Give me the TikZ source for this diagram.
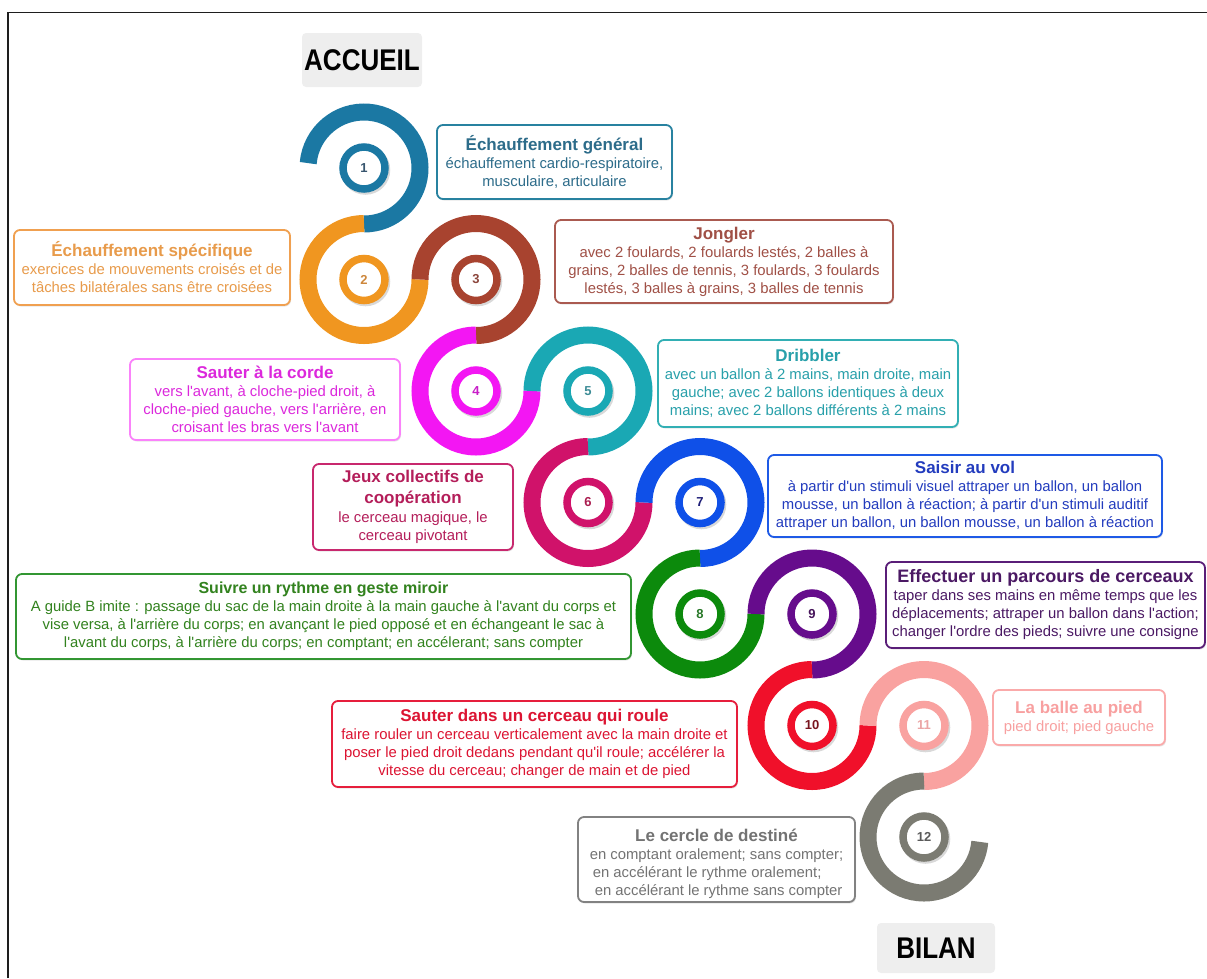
\documentclass[tikz,border=0pt]{standalone}
\usepackage{fontspec}
\setmainfont{Liberation Sans}[Ligatures=TeXOff]
\usetikzlibrary{shadows}
% band / ring colours
\definecolor{k1}{RGB}{27,120,163}
\definecolor{k2}{RGB}{240,150,32}
\definecolor{k3}{RGB}{168,67,47}
\definecolor{k4}{RGB}{243,22,243}
\definecolor{k5}{RGB}{26,168,180}
\definecolor{k6}{RGB}{208,18,106}
\definecolor{k7}{RGB}{15,80,232}
\definecolor{k8}{RGB}{12,138,12}
\definecolor{k9}{RGB}{102,12,140}
\definecolor{k10}{RGB}{240,16,42}
\definecolor{k11}{RGB}{249,162,160}
\definecolor{k12}{RGB}{123,123,114}
% number colours
\definecolor{n1c}{RGB}{55,85,110}
\definecolor{n2c}{RGB}{205,135,60}
\definecolor{n3c}{RGB}{140,70,60}
\definecolor{n4c}{RGB}{200,30,200}
\definecolor{n5c}{RGB}{60,140,150}
\definecolor{n6c}{RGB}{170,30,80}
\definecolor{n7c}{RGB}{30,30,120}
\definecolor{n8c}{RGB}{40,120,40}
\definecolor{n9c}{RGB}{70,20,90}
\definecolor{n10c}{RGB}{120,20,30}
\definecolor{n11c}{RGB}{235,165,165}
\definecolor{n12c}{RGB}{90,90,90}
% box border colours
\definecolor{b1}{RGB}{40,130,160}
\definecolor{b2}{RGB}{240,160,80}
\definecolor{b3}{RGB}{170,90,80}
\definecolor{b4}{RGB}{250,130,250}
\definecolor{b5}{RGB}{50,175,180}
\definecolor{b6}{RGB}{200,40,110}
\definecolor{b7}{RGB}{30,90,230}
\definecolor{b8}{RGB}{50,150,50}
\definecolor{b9}{RGB}{90,30,120}
\definecolor{b10}{RGB}{230,30,60}
\definecolor{b11}{RGB}{250,170,170}
\definecolor{b12}{RGB}{130,130,130}
% box text colours
\definecolor{t1}{RGB}{45,108,138}
\definecolor{t2}{RGB}{232,155,75}
\definecolor{t3}{RGB}{160,80,70}
\definecolor{t4}{RGB}{220,40,220}
\definecolor{t5}{RGB}{40,160,170}
\definecolor{t6}{RGB}{180,30,90}
\definecolor{t7}{RGB}{35,60,190}
\definecolor{t8}{RGB}{50,130,30}
\definecolor{t9}{RGB}{75,25,100}
\definecolor{t10}{RGB}{220,20,50}
\definecolor{t11}{RGB}{248,160,160}
\definecolor{t12}{RGB}{115,115,115}
\definecolor{frame}{RGB}{30,30,30}
\definecolor{tagbg}{RGB}{238,238,238}
\newcommand{\ttl}[2][17]{{\fontsize{#1}{18}\selectfont\bfseries #2}}
\begin{document}
\begin{tikzpicture}[x=1pt,y=1pt,
  band/.style={line width=17pt},
  ring/.style={circle, minimum size=42pt, inner sep=0pt, line width=7.5pt, fill=white,
    font=\fontsize{13}{13}\selectfont\bfseries,
    drop shadow={shadow xshift=1.5pt, shadow yshift=-2pt, opacity=0.3, fill=black!50, draw=black!50, line width=7.5pt}},
  tbox/.style={rounded corners=6pt, line width=1.8pt, fill=white, align=center, inner sep=0pt,
    font=\fontsize{14.85}{18}\selectfont,
    drop shadow={shadow xshift=1pt, shadow yshift=-1.5pt, opacity=0.2}},
  tag/.style={fill=tagbg, rounded corners=4pt, font=\fontsize{26}{26}\selectfont\bfseries,
    minimum width=120pt, minimum height=54pt, inner sep=0pt}
]
\useasboundingbox (0,0) rectangle (1207,-978);
\draw[frame, line width=1.6pt] (8,-978) -- (8,-12.5) -- (1207,-12.5);

% tags
\node[tag] (accueil) at (362,-60) {\scalebox{1}[1.15]{ACCUEIL}};
\node[tag, minimum width=118pt, minimum height=50pt] (bilan) at (936,-948) {\scalebox{1}[1.15]{BILAN}};

% rings
\node[ring, draw=k1, text=n1c] (r1) at (364,-168) {1};
\node[ring, draw=k2, text=n2c] (r2) at (364,-279.5) {2};
\node[ring, draw=k3, text=n3c] (r3) at (476,-279.5) {3};
\node[ring, draw=k4, text=n4c] (r4) at (476,-391) {4};
\node[ring, draw=k5, text=n5c] (r5) at (588,-391) {5};
\node[ring, draw=k6, text=n6c] (r6) at (588,-502.5) {6};
\node[ring, draw=k7, text=n7c] (r7) at (700,-502.5) {7};
\node[ring, draw=k8, text=n8c] (r8) at (700,-614) {8};
\node[ring, draw=k9, text=n9c] (r9) at (812,-614) {9};
\node[ring, draw=k10, text=n10c] (r10) at (812,-725.5) {10};
\node[ring, draw=k11, text=n11c] (r11) at (924,-725.5) {11};
\node[ring, draw=k12, text=n12c] (r12) at (924,-837) {12};

% spiral bands
\draw[band, k1] (r1.center) ++(175:56) arc[start angle=175, end angle=-90, radius=56];
\draw[band, k2] (r2.center) ++(90:56) arc[start angle=90, end angle=360, radius=56];
\draw[band, k3] (r3.center) ++(180:56) arc[start angle=180, end angle=-90, radius=56];
\draw[band, k4] (r4.center) ++(90:56) arc[start angle=90, end angle=360, radius=56];
\draw[band, k5] (r5.center) ++(180:56) arc[start angle=180, end angle=-90, radius=56];
\draw[band, k6] (r6.center) ++(90:56) arc[start angle=90, end angle=360, radius=56];
\draw[band, k7] (r7.center) ++(180:56) arc[start angle=180, end angle=-90, radius=56];
\draw[band, k8] (r8.center) ++(90:56) arc[start angle=90, end angle=360, radius=56];
\draw[band, k9] (r9.center) ++(180:56) arc[start angle=180, end angle=-90, radius=56];
\draw[band, k10] (r10.center) ++(90:56) arc[start angle=90, end angle=360, radius=56];
\draw[band, k11] (r11.center) ++(180:56) arc[start angle=180, end angle=-90, radius=56];
\draw[band, k12] (r12.center) ++(90:56) arc[start angle=90, end angle=355, radius=56];

% text boxes
\node[tbox, draw=b1, text=t1, minimum width=235pt, minimum height=74pt] (s1) at (554.5,-162)
  {\ttl{Échauffement général}\\échauffement cardio-respiratoire,\\musculaire, articulaire};
\node[tbox, draw=b2, text=t2, minimum width=276pt, minimum height=75pt] (s2) at (152,-267.5)
  {\ttl{Échauffement spécifique}\\exercices de mouvements croisés et de\\tâches bilatérales sans être croisées};
\node[tbox, draw=b3, text=t3, minimum width=338pt, minimum height=83pt] (s3) at (724,-261.5)
  {\ttl{Jongler}\\avec 2 foulards, 2 foulards lestés, 2 balles à\\grains, 2 balles de tennis, 3 foulards, 3 foulards\\lestés, 3 balles à grains, 3 balles de tennis};
\node[tbox, draw=b4, text=t4, minimum width=270pt, minimum height=81pt] (s4) at (265,-399.5)
  {\ttl{Sauter à la corde}\\vers l'avant, à cloche-pied droit, à\\cloche-pied gauche, vers l'arrière, en\\croisant les bras vers l'avant};
\node[tbox, draw=b5, text=t5, minimum width=300pt, minimum height=87pt] (s5) at (808,-383.5)
  {\ttl{Dribbler}\\avec un ballon à 2 mains, main droite, main\\gauche; avec 2 ballons identiques à deux\\mains; avec 2 ballons différents à 2 mains};
\node[tbox, draw=b6, text=t6, minimum width=200pt, minimum height=86pt] (s6) at (413,-507)
  {\ttl{Jeux collectifs de}\\[3pt]\ttl{coopération}\\[1pt]le cerceau magique, le\\cerceau pivotant};
\node[tbox, draw=b7, text=t7, minimum width=394pt, minimum height=82pt] (s7) at (965,-496)
  {\ttl{Saisir au vol}\\à partir d'un stimuli visuel attraper un ballon, un ballon\\mousse, un ballon à réaction; à partir d'un stimuli auditif\\attraper un ballon, un ballon mousse, un ballon à réaction};
\node[tbox, draw=b8, text=t8, minimum width=615pt, minimum height=85pt] (s8) at (323.5,-616.5)
  {\ttl[16]{Suivre un rythme en geste miroir}\\A guide B imite : passage du sac de la main droite à la main gauche à l'avant du corps et\\vise versa, à l'arrière du corps; en avançant le pied opposé et en échangeant le sac à\\l'avant du corps, à l'arrière du corps; en comptant; en accélerant; sans compter};
\node[tbox, draw=b9, text=t9, minimum width=319pt, minimum height=86pt] (s9) at (1045.5,-605)
  {\ttl[18]{Effectuer un parcours de cerceaux}\\taper dans ses mains en même temps que les\\déplacements; attraper un ballon dans l'action;\\changer l'ordre des pieds; suivre une consigne};
\node[tbox, draw=b10, text=t10, minimum width=405pt, minimum height=86pt] (s10) at (534.5,-744)
  {\ttl{Sauter dans un cerceau qui roule}\\faire rouler un cerceau verticalement avec la main droite et\\poser le pied droit dedans pendant qu'il roule; accélérer la\\vitesse du cerceau; changer de main et de pied};
\node[tbox, draw=b11, text=t11, minimum width=172pt, minimum height=55pt] (s11) at (1079,-717.5)
  {\ttl{La balle au pied}\\pied droit; pied gauche};
\node[tbox, draw=b12, text=t12, minimum width=277pt, minimum height=85pt] (s12) at (716.5,-859.5)
  {\rule{0pt}{23pt}\ttl{Le cercle de destiné}\\\begin{tabular}[t]{@{}l@{}}en comptant oralement; sans compter;\\\hspace{3pt}en accélérant le rythme oralement;\\\hspace{5pt}en accélérant le rythme sans compter\end{tabular}};
\end{tikzpicture}
\end{document}
